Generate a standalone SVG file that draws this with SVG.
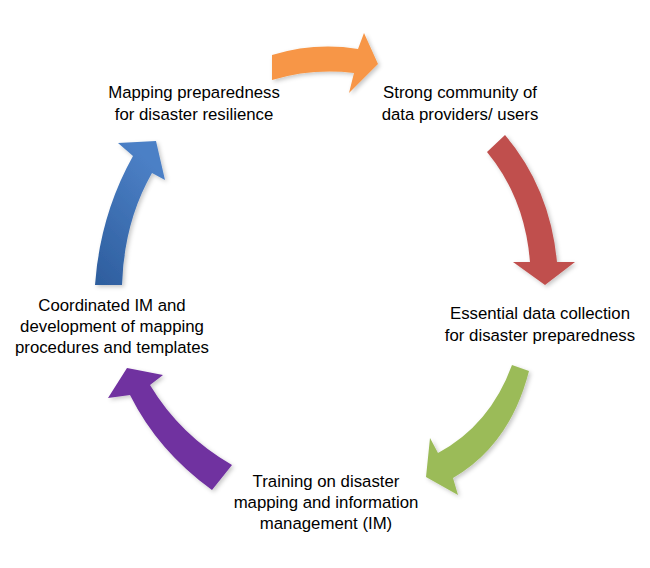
<svg xmlns="http://www.w3.org/2000/svg" width="650" height="568" viewBox="0 0 650 568">
<defs>
<style>
.lbl{font-family:"Liberation Sans",Arial,sans-serif;font-size:16.8px;fill:#000;text-anchor:middle}
.arr{filter:url(#sh)}
</style>
<filter id="sh" x="-20%" y="-20%" width="140%" height="140%">
<feDropShadow dx="2" dy="2" stdDeviation="2" flood-color="#000" flood-opacity="0.22"/>
</filter>
<linearGradient id="bg" x1="0" y1="1" x2="0.5" y2="0">
<stop offset="0" stop-color="#2D5D9D"/>
<stop offset="1" stop-color="#4C80C6"/>
</linearGradient>
</defs>
<rect width="650" height="568" fill="#fff"/>
<g id="connectors">
<path class="arr" fill="#F79646" d="M272,80 L272,55 Q315,42 358,49 L364,33 L378,64 L349,93 L354,73 Q312,68 272,80 Z"/>
<path class="arr" fill="#C0504D" d="M487,152 L505,135 Q550,188 557,262 L575,262 L545,285 L513,262 L530,262 Q525,198 487,152 Z"/>
<path class="arr" fill="#9BBB59" d="M512,365 L529,371 Q510,445 453,478 L458,495 L426,477 L430,438 L438,453 Q490,425 512,365 Z"/>
<path class="arr" fill="#7030A0" d="M232,465 L212,490 Q158,451 130,395 L108,398 L127,368 L163,375 L150,385 Q180,435 232,465 Z"/>
<path class="arr" fill="url(#bg)" d="M95,285 L122,285 Q124,222 152,173 L165,180 L156,141 L118,143 L133,156 Q100,215 95,285 Z"/>
</g>
<g id="n1"><text class="lbl" x="194" y="98">Mapping preparedness</text><text class="lbl" x="194" y="120">for disaster resilience</text></g>
<g id="n2"><text class="lbl" x="460" y="98">Strong community of</text><text class="lbl" x="460" y="120">data providers/ users</text></g>
<g id="n3"><text class="lbl" x="540" y="319">Essential data collection</text><text class="lbl" x="540" y="341">for disaster preparedness</text></g>
<g id="n4"><text class="lbl" x="326" y="487">Training on disaster</text><text class="lbl" x="326" y="508">mapping and information</text><text class="lbl" x="326" y="529">management (IM)</text></g>
<g id="n5"><text class="lbl" x="112" y="311">Coordinated IM and</text><text class="lbl" x="112" y="332">development of mapping</text><text class="lbl" x="112" y="353">procedures and templates</text></g>
</svg>
